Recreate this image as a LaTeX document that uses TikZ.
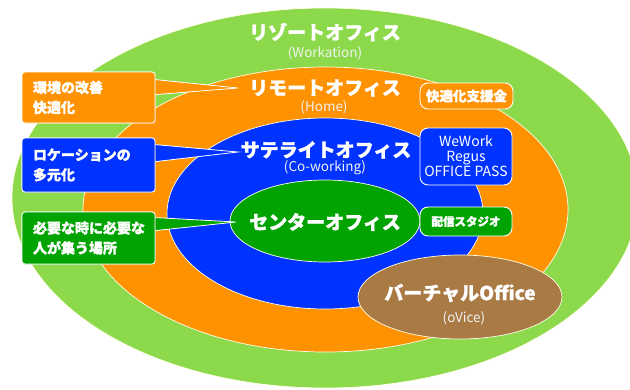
\documentclass[tikz,border=0pt]{standalone}
\usepackage{fontspec}
\setmainfont{Noto Sans CJK JP}
\newfontfamily\heavy{Noto Sans CJK JP}[FakeBold=1.2]
\usetikzlibrary{shapes.geometric,calc}
\definecolor{lgreen}{RGB}{140,217,75}
\definecolor{orng}{RGB}{255,146,0}
\definecolor{blu}{RGB}{0,51,255}
\definecolor{dgreen}{RGB}{0,163,0}
\definecolor{brwn}{RGB}{170,122,68}
\begin{document}
\begin{tikzpicture}[x=1pt,y=-1pt,
  ring/.style={ellipse,inner sep=0pt,draw=white!90!yellow,line width=0.7pt},
  big/.style={text=white,font=\heavy\bfseries\fontsize{19}{22}\selectfont,inner sep=0pt},
  small/.style={text=white!95!black,font=\fontsize{13.5}{15}\selectfont,inner sep=0pt},
  callbox/.style={rectangle,rounded corners=3pt,draw=white,line width=0.8pt,text=white,
    font=\heavy\bfseries\fontsize{14}{20}\selectfont,align=left,text width=111pt,inner xsep=11pt,inner ysep=0pt},
  tagbox/.style={rectangle,rounded corners=8pt,draw=white,line width=0.9pt,text=white,inner sep=0pt,align=center},
  pointer/.style={draw=white,line width=0.8pt,line join=miter}
]
\useasboundingbox (0,0) rectangle (630,389);
\clip (0,0) rectangle (630,389);
% rings
\node[ring,fill=lgreen,minimum width=626pt,minimum height=380pt] (resort) at (325,198) {};
\node[ring,fill=orng,minimum width=485pt,minimum height=285pt] (remote) at (325.5,209.5) {};
\node[ring,fill=blu,minimum width=316pt,minimum height=191pt] (satellite) at (325,213.5) {};
\node[ring,fill=dgreen,minimum width=190pt,minimum height=82pt] (center) at (325,221) {};
\node[ring,fill=brwn,minimum width=204pt,minimum height=84pt] (virtual) at (460,297) {};
% ring labels
\node[big] (resortT) at (325,32) {リゾートオフィス};
\node[small] (resortS) at (325,53) {(Workation)};
\node[big] (remoteT) at (325,88) {リモートオフィス};
\node[small] (remoteS) at (324,107) {(Home)};
\node[big] (satT) at (326,150) {サテライトオフィス};
\node[small] (satS) at (325,168) {(Co-working)};
\node[big] (centerT) at (325,222) {センターオフィス};
\node[big] (virtT) at (460,293) {バーチャルOffice};
\node[small] (virtS) at (464,318) {(oVice)};
% callout boxes
\node[callbox,fill=orng,minimum height=51pt] (b1) at (88.5,97.5) {環境の改善\\快適化};
\node[callbox,fill=blu,minimum height=54pt] (b2) at (88.5,165) {ロケーションの\\多元化};
\node[callbox,fill=dgreen,minimum height=52pt] (b3) at (88.5,238) {必要な時に必要な\\人が集う場所};
\coordinate (t1) at (238,88);
\coordinate (t2) at (238,152);
\coordinate (t3) at (236,222);
\filldraw[pointer,fill=orng] ($(b1.north east)+(0,8)$) -- (t1) -- ($(b1.north east)+(0,23)$);
\filldraw[pointer,fill=blu] ($(b2.north east)+(0,7)$) -- (t2) -- ($(b2.north east)+(0,24)$);
\filldraw[pointer,fill=dgreen] ($(b3.north east)+(0,6)$) -- (t3) -- ($(b3.north east)+(0,19)$);
\node[callbox,fill=orng,minimum height=51pt] at (b1) {環境の改善\\快適化};
\node[callbox,fill=blu,minimum height=54pt] at (b2) {ロケーションの\\多元化};
\node[callbox,fill=dgreen,minimum height=52pt] at (b3) {必要な時に必要な\\人が集う場所};
% right tags
\node[tagbox,fill=orng,minimum width=93pt,minimum height=26pt,font=\heavy\bfseries\fontsize{13.5}{16}\selectfont] (r1) at (466.5,96) {快適化支援金};
\node[tagbox,fill=blu,minimum width=92pt,minimum height=57pt,font=\fontsize{14}{15}\selectfont] (r2) at (466,156.5) {WeWork\\Regus\\OFFICE PASS};
\node[tagbox,fill=dgreen,minimum width=92pt,minimum height=29pt,font=\heavy\bfseries\fontsize{11.5}{14}\selectfont] (r3) at (466,221.5) {配信スタジオ};
\end{tikzpicture}
\end{document}
